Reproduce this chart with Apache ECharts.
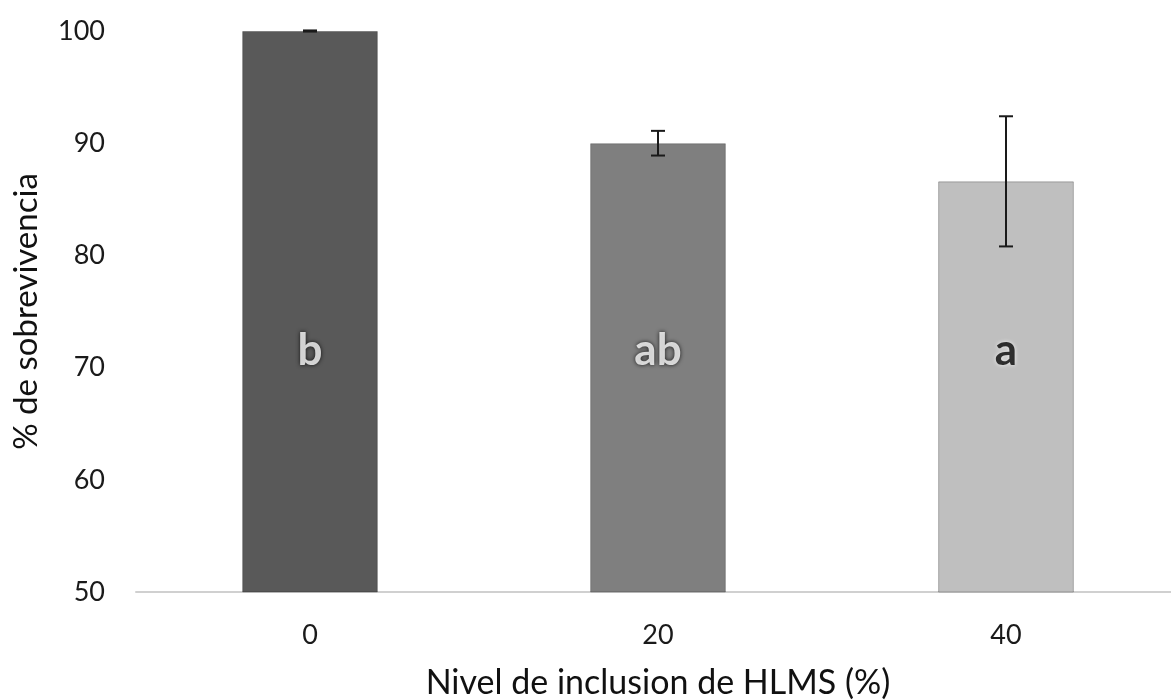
<!DOCTYPE html>
<html><head><meta charset="utf-8">
<script src="https://cdn.jsdelivr.net/npm/echarts@6/dist/echarts.min.js"></script>
<style>html,body{margin:0;padding:0;background:#fff}#c{width:1171px;height:700px}</style>
</head><body><div id="c"></div>
<script>
const categories = ['0', '20', '40'];
const survival = [100, 90.0, 86.6];
const errors = [0.05, 1.1, 5.8];
const letters = ['b', 'ab', 'a'];
const letterLevel = [71.5, 71.5, 71.5];
const barColors = ['#595959', '#7f7f7f', '#bfbfbf'];
const letterColors = ['#ffffff', '#ffffff', '#000000'];
const letterShadow = ['#000000', '#000000', '#ffffff'];
const yTicks = [50, 60, 70, 80, 90, 100];

const font = 'Lato, "Open Sans", sans-serif';
const chart = echarts.init(document.getElementById('c'));
chart.setOption({
  animation: false,
  grid: { left: 136, width: 1044, top: 31, bottom: 108, containLabel: false, outerBoundsMode: 'none' },
  xAxis: {
    type: 'category', data: categories,
    name: 'Nivel de inclusion de HLMS (%)', nameLocation: 'middle', nameGap: 74,
    nameTextStyle: { fontFamily: font, fontSize: 34, color: '#111' },
    axisLine: { lineStyle: { color: '#d0d0d0', width: 2 } },
    axisTick: { show: false },
    axisLabel: { fontFamily: font, fontSize: 27, color: '#1a1a1a', margin: 30 }
  },
  yAxis: {
    type: 'value', min: yTicks[0], max: yTicks[yTicks.length - 1], interval: 10,
    name: '% de sobrevivencia', nameLocation: 'middle', nameGap: 93,
    nameTextStyle: { fontFamily: font, fontSize: 33, color: '#111' },
    axisLine: { show: false }, axisTick: { show: false }, splitLine: { show: false },
    axisLabel: { fontFamily: font, fontSize: 27, color: '#1a1a1a', margin: 31 }
  },
  series: [
    {
      type: 'bar', barWidth: '39%',
      data: survival.map((v, i) => ({ value: v, itemStyle: { color: barColors[i], borderColor: 'rgba(0,0,0,0.25)', borderWidth: 1 } }))
    },
    {
      type: 'custom', z: 5,
      data: survival.map((v, i) => [i, v - errors[i], v + errors[i]]),
      renderItem: function (params, api) {
        const lo = api.coord([api.value(0), api.value(1)]);
        const hi = api.coord([api.value(0), api.value(2)]);
        const w = 7;
        const st = { stroke: '#1a1a1a', lineWidth: 2 };
        return { type: 'group', children: [
          { type: 'line', shape: { x1: hi[0], y1: hi[1], x2: lo[0], y2: lo[1] }, style: st },
          { type: 'line', shape: { x1: hi[0] - w, y1: hi[1], x2: hi[0] + w, y2: hi[1] }, style: st },
          { type: 'line', shape: { x1: lo[0] - w, y1: lo[1], x2: lo[0] + w, y2: lo[1] }, style: st }
        ]};
      }
    },
    {
      type: 'scatter', symbolSize: 0, z: 6,
      data: letters.map((t, i) => ({
        value: [i, letterLevel[i]],
        label: { show: true, position: 'inside', formatter: t, fontFamily: font, fontWeight: 'bold', fontSize: 44,
          color: letterColors[i], textShadowColor: letterShadow[i], textShadowBlur: 4 }
      }))
    }
  ]
});
</script></body></html>
